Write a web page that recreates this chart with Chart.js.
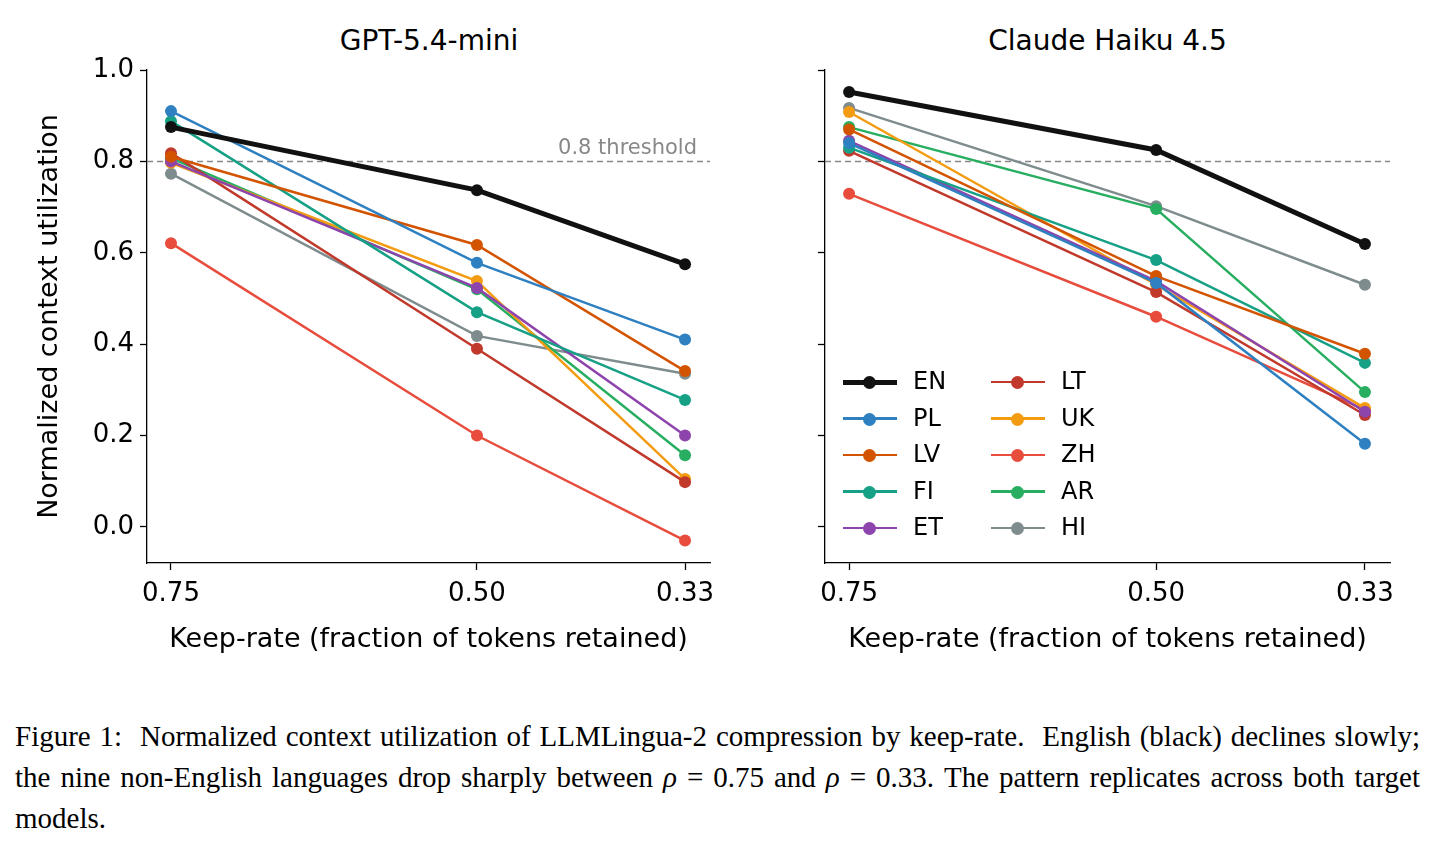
<!DOCTYPE html>
<html>
<head>
<meta charset="utf-8">
<script src="https://cdn.jsdelivr.net/npm/chart.js@4.4.1/dist/chart.umd.min.js"></script>
<style>
  body { margin: 0; background: #fff; width: 1435px; height: 853px; position: relative; overflow: hidden; }
  canvas { position: absolute; }
  .ptitle { position: absolute; font: 28px "DejaVu Sans"; color: #000; text-align: center; }
  .legend { position: absolute; left: 838px; top: 364px; font: 24px "DejaVu Sans"; }
  .item { position: absolute; height: 30px; width: 140px; }
  .item .ln { position: absolute; left: 5px; top: 18px; width: 54px; }
  .item .dot { position: absolute; left: 25px; top: 12px; width: 13px; height: 13px; border-radius: 50%; }
  .item .tx { position: absolute; left: 75px; top: 3px; }
  .caption { position: absolute; left: 15px; top: 716px; width: 1405px; font: 29px "Liberation Serif"; line-height: 41px; text-align: justify; color: #000; }
</style>
</head>
<body>
<div class="ptitle" style="left:147px;width:564px;top:24px;">GPT-5.4-mini</div>
<div class="ptitle" style="left:825px;width:565px;top:24px;">Claude Haiku 4.5</div>
<canvas id="left" width="705" height="640" style="left:20px;top:20px;width:705px;height:640px;"></canvas>
<canvas id="right" width="705" height="640" style="left:700px;top:20px;width:705px;height:640px;"></canvas>
<div class="legend" id="legend"></div>
<div class="caption">Figure 1:&nbsp; Normalized context utilization of LLMLingua-2 compression by keep-rate.&nbsp; English (black) declines slowly; the nine non-English languages drop sharply between <i>ρ</i> = 0.75 and <i>ρ</i> = 0.33. The pattern replicates across both target models.</div>
<script>
(function() {
    'use strict';

    // ===== DATA =====
    const keepRates = [0.75, 0.50, 0.33];
    const languages = ['EN', 'PL', 'LV', 'FI', 'ET', 'LT', 'UK', 'ZH', 'AR', 'HI'];
    const colors = ['#111111', '#2e80c0', '#d35400', '#16a085', '#8e44ad', '#c0392b', '#f39c12', '#e74c3c', '#27ae60', '#7f8c8d'];

    // GPT-5.4-mini
    const gptEN = [0.875, 0.737, 0.575];
    const gptPL = [0.910, 0.578, 0.410];
    const gptLV = [0.810, 0.617, 0.341];
    const gptFI = [0.888, 0.470, 0.278];
    const gptET = [0.800, 0.523, 0.200];
    const gptLT = [0.818, 0.390, 0.098];
    const gptUK = [0.797, 0.538, 0.105];
    const gptZH = [0.621, 0.200, -0.030];
    const gptAR = [0.807, 0.520, 0.157];
    const gptHI = [0.773, 0.418, 0.335];

    // Claude Haiku 4.5
    const haikuEN = [0.952, 0.825, 0.619];
    const haikuPL = [0.840, 0.534, 0.182];
    const haikuLV = [0.870, 0.549, 0.379];
    const haikuFI = [0.830, 0.584, 0.359];
    const haikuET = [0.845, 0.538, 0.252];
    const haikuLT = [0.823, 0.514, 0.245];
    const haikuUK = [0.908, 0.530, 0.260];
    const haikuZH = [0.729, 0.460, 0.256];
    const haikuAR = [0.875, 0.696, 0.295];
    const haikuHI = [0.917, 0.702, 0.530];

    const yTicks = [0.0, 0.2, 0.4, 0.6, 0.8, 1.0];
    const threshold = 0.8;

    const gptSeries = [gptEN, gptPL, gptLV, gptFI, gptET, gptLT, gptUK, gptZH, gptAR, gptHI];
    const haikuSeries = [haikuEN, haikuPL, haikuLV, haikuFI, haikuET, haikuLT, haikuUK, haikuZH, haikuAR, haikuHI];

    const FONT = 'DejaVu Sans';

    function buildDatasets(series) {
        // EN gets order 0 so it is drawn on top
        return series.map((vals, i) => ({
            label: languages[i],
            data: keepRates.map((x, j) => ({ x: x, y: vals[j] })),
            borderColor: colors[i],
            backgroundColor: colors[i],
            borderWidth: i === 0 ? 5 : 2.5,
            pointRadius: 6,
            pointHoverRadius: 6,
            pointBorderWidth: 0,
            order: i === 0 ? 0 : 1
        }));
    }

    const thresholdPlugin = {
        id: 'threshold',
        beforeDatasetsDraw(chart, args, opts) {
            const { ctx, chartArea } = chart;
            const y = chart.scales.y.getPixelForValue(threshold);
            ctx.save();
            ctx.strokeStyle = '#888';
            ctx.lineWidth = 1.5;
            ctx.setLineDash([6, 4]);
            ctx.beginPath();
            ctx.moveTo(chartArea.left, y);
            ctx.lineTo(chartArea.right, y);
            ctx.stroke();
            if (opts.label) {
                ctx.setLineDash([]);
                ctx.fillStyle = '#888';
                ctx.font = '21px "' + FONT + '"';
                ctx.textAlign = 'right';
                ctx.textBaseline = 'bottom';
                ctx.fillText('0.8 threshold', chartArea.right - 13, y - 2);
            }
            ctx.restore();
        }
    };

    function makeChart(id, series, showYLabels, yAxisWidth) {
        const ctx = document.getElementById(id).getContext('2d');
        return new Chart(ctx, {
            type: 'line',
            data: { datasets: buildDatasets(series) },
            plugins: [thresholdPlugin],
            options: {
                responsive: false,
                animation: false,
                layout: { padding: { top: 50, right: 15, left: 0, bottom: 0 } },
                plugins: {
                    legend: { display: false },
                    tooltip: { enabled: false },
                    threshold: { label: showYLabels }
                },
                scales: {
                    x: {
                        type: 'linear',
                        reverse: true,
                        min: 0.3096,
                        max: 0.7696,
                        afterBuildTicks: function(axis) { axis.ticks = keepRates.map(v => ({ value: v })); },
                        afterFit: function(axis) { axis.height = 97; },
                        ticks: {
                            color: '#000',
                            font: { family: FONT, size: 26 },
                            padding: 9,
                            maxRotation: 0,
                            callback: v => v.toFixed(2)
                        },
                        grid: { drawOnChartArea: false, drawTicks: true, tickLength: 7, tickColor: '#000', tickWidth: 1.3 },
                        border: { color: '#000', width: 1.3 },
                        title: {
                            display: true,
                            text: 'Keep-rate (fraction of tokens retained)',
                            color: '#000',
                            font: { family: FONT, size: 27 },
                            padding: { top: 0 }
                        }
                    },
                    y: {
                        min: -0.079,
                        max: 1.0,
                        afterBuildTicks: function(axis) { axis.ticks = yTicks.map(v => ({ value: v })); },
                        afterFit: function(axis) { axis.width = yAxisWidth; },
                        ticks: {
                            color: '#000',
                            font: { family: FONT, size: 26 },
                            padding: 6,
                            callback: v => showYLabels ? v.toFixed(1) : ''
                        },
                        grid: { drawOnChartArea: false, drawTicks: true, tickLength: 7, tickColor: '#000', tickWidth: 1.3 },
                        border: { color: '#000', width: 1.3 },
                        title: {
                            display: showYLabels,
                            text: 'Normalized context utilization',
                            color: '#000',
                            font: { family: FONT, size: 27 },
                            padding: { top: 14, bottom: 6 }
                        }
                    }
                }
            }
        });
    }

    makeChart('left', gptSeries, true, 127);
    makeChart('right', haikuSeries, false, 125);

    // ===== LEGEND =====
    const legendEl = document.getElementById('legend');
    let html = '';
    languages.forEach((lang, i) => {
        const col = i < 5 ? 0 : 1;
        const row = i % 5;
        const lw = i === 0 ? 5 : 2.5;
        html += `
            <div class="item" style="left:${col * 148}px;top:${row * 36.5}px;">
                <div class="ln" style="height:${lw}px;margin-top:${-lw / 2}px;background:${colors[i]};"></div>
                <div class="dot" style="background:${colors[i]};"></div>
                <div class="tx">${lang}</div>
            </div>`;
    });
    legendEl.innerHTML = html;
})();
</script>
</body>
</html>
